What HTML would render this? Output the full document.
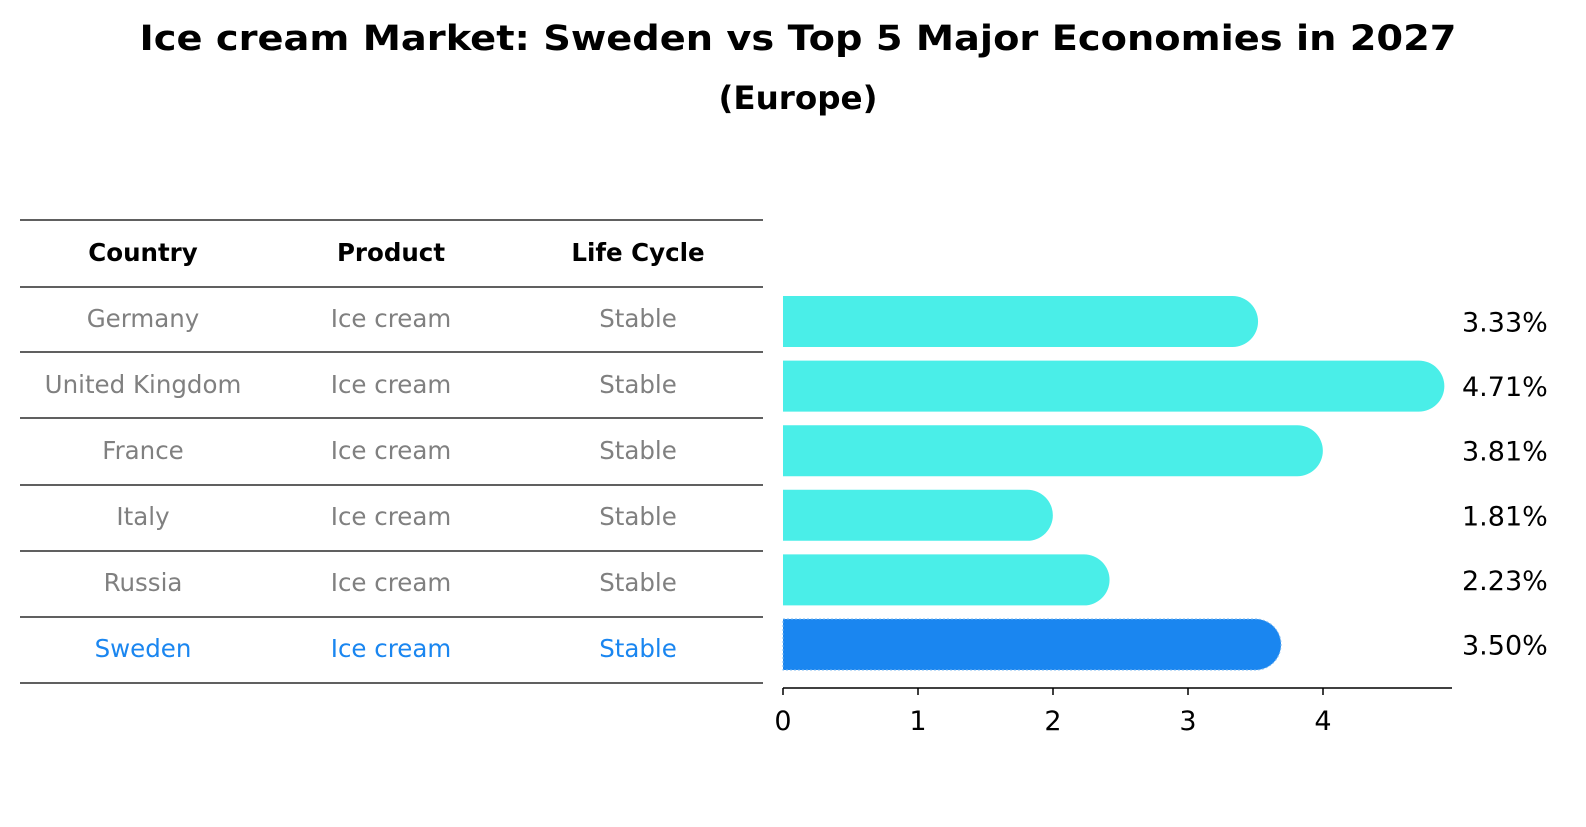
<!DOCTYPE html>
<html><head><meta charset="utf-8"><style>
body{margin:0;background:#fff;width:1586px;height:823px;overflow:hidden;font-family:"DejaVu Sans","Liberation Sans",sans-serif}
</style></head><body>
<svg width="1586" height="823" style="font-family:'DejaVu Sans','Liberation Sans',sans-serif">
<text x="798" y="50" text-anchor="middle" font-size="35" font-weight="bold" textLength="1317" lengthAdjust="spacingAndGlyphs">Ice cream Market: Sweden vs Top 5 Major Economies in 2027</text>
<text x="798" y="109" text-anchor="middle" font-size="32" font-weight="bold" textLength="159" lengthAdjust="spacingAndGlyphs">(Europe)</text>
<g id="table"></g>
<g id="bars"></g>
</svg>
<script>
const countries=["Germany","United Kingdom","France","Italy","Russia","Sweden"];
const products=["Ice cream","Ice cream","Ice cream","Ice cream","Ice cream","Ice cream"];
const cycles=["Stable","Stable","Stable","Stable","Stable","Stable"];
const values=[3.33,4.71,3.81,1.81,2.23,3.50];
const ticks=[0,1,2,3,4];
const NS="http://www.w3.org/2000/svg";
function mk(t,a,p,txt){const e=document.createElementNS(NS,t);for(const k in a)e.setAttribute(k,a[k]);if(txt!==undefined)e.textContent=txt;p.appendChild(e);return e;}
const tb=document.getElementById('table'),bg=document.getElementById('bars');
const x=v=>783+v*135;
const y=i=>321.5+i*64.6;
const colX=[143,391,638];
const lineYs=[220,287,352,418,485,551,617,683];
lineYs.forEach(ly=>{const l=mk('line',{x1:20,x2:763,y1:ly,y2:ly,stroke:'#000','stroke-width':1.2},tb);

});
["Country","Product","Life Cycle"].forEach((h,j)=>{const t=mk('text',{x:colX[j],y:261,'text-anchor':'middle','font-size':24.5,'font-weight':'bold'},tb,h);

});
countries.forEach((c,i)=>{const last=i===countries.length-1;const col=last?'#1a86f0':'#808080';
[c,products[i],cycles[i]].forEach((v,j)=>{const t=mk('text',{x:colX[j],y:327+i*66,'text-anchor':'middle','font-size':24.5,fill:col},tb,v);

});});
const h=51,r=25.5;
values.forEach((v,i)=>{const last=i===values.length-1;const cy=y(i),x0=x(0),x1=x(v);
const d=`M${x0},${cy-h/2} H${x1} A${r},${r} 0 0 1 ${x1},${cy+h/2} H${x0} Z`;
const p=mk('path',{d:d,fill:last?'#1a86f0':'#4aeee8'},bg);
if(last){p.setAttribute('stroke','#7ab8f0');p.setAttribute('stroke-dasharray','2,2');p.setAttribute('stroke-width','1');}


const t=mk('text',{x:1462,y:cy+10,'font-size':27},bg,v.toFixed(2)+'%');

});
const ax=mk('line',{x1:783,x2:1452,y1:688,y2:688,stroke:'#000','stroke-width':1.5},bg);


ticks.forEach(tv=>{const tl=mk('line',{x1:x(tv),x2:x(tv),y1:688,y2:695,stroke:'#000','stroke-width':1.5},bg);


const t=mk('text',{x:x(tv),y:730,'text-anchor':'middle','font-size':27},bg,String(tv));

});
</script>
</body></html>
